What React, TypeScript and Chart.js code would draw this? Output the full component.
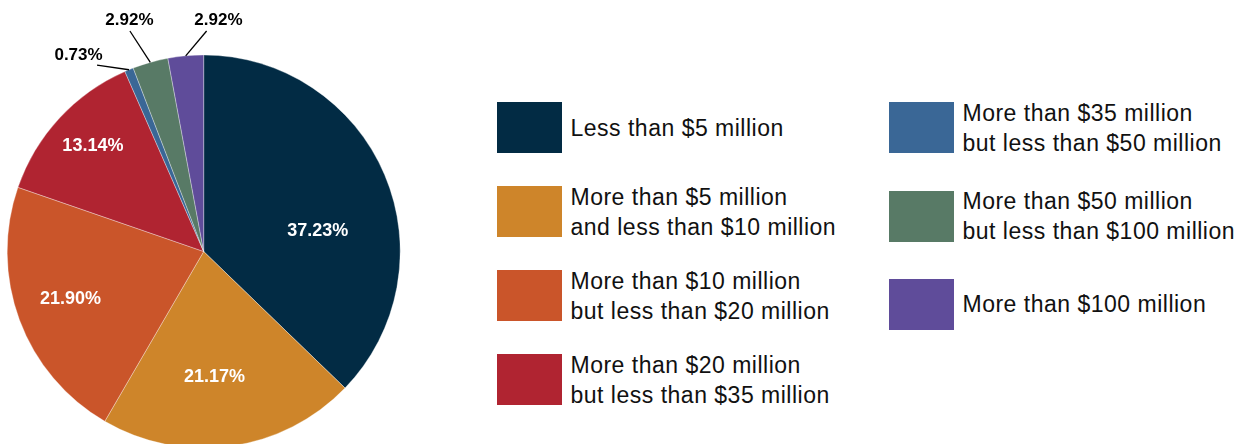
import React, { useEffect, useRef } from "react";
import { Chart, registerables } from "chart.js";

Chart.register(...registerables);

// ---- data ----
const categories: string[][] = [
  ["Less than $5 million"],
  ["More than $5 million", "and less than $10 million"],
  ["More than $10 million", "but less than $20 million"],
  ["More than $20 million", "but less than $35 million"],
  ["More than $35 million", "but less than $50 million"],
  ["More than $50 million", "but less than $100 million"],
  ["More than $100 million"],
];
const shares: number[] = [37.23, 21.17, 21.9, 13.14, 0.73, 2.92, 2.92];
const colors: string[] = [
  "#022B44",
  "#CE852A",
  "#CA552A",
  "#B02431",
  "#3A6796",
  "#587A66",
  "#5F4C9A",
];

// ---- label placement (style, not data) ----
type Placement =
  | { inside: true; angleShift: number; radiusFrac: number }
  | { inside: false; lineDx: number; lineDy: number; textDx: number; textDy: number };

const labelPlacement: Placement[] = [
  { inside: true, angleShift: 12.8, radiusFrac: 0.59 },
  { inside: true, angleShift: 3, radiusFrac: 0.64 },
  { inside: true, angleShift: 0.7, radiusFrac: 0.72 },
  { inside: true, angleShift: 1, radiusFrac: 0.78 },
  { inside: false, lineDx: -32, lineDy: -4.7, textDx: -18.5, textDy: -10 },
  { inside: false, lineDx: -20.4, lineDy: -31.4, textDx: -0.5, textDy: -10.3 },
  { inside: false, lineDx: 20.9, lineDy: -24.8, textDx: 11.8, textDy: -10.3 },
];

const FONT = '"Liberation Sans", Arial, Helvetica, sans-serif';

const labelPlugin = {
  id: "sliceLabels",
  afterDatasetsDraw(chart: any) {
    const ctx = chart.ctx as CanvasRenderingContext2D;
    const meta = chart.getDatasetMeta(0);
    meta.data.forEach((arc: any, i: number) => {
      const p = labelPlacement[i];
      const { x, y, startAngle, endAngle, outerRadius } = arc.getProps(
        ["x", "y", "startAngle", "endAngle", "outerRadius"],
        true
      );
      const mid = (startAngle + endAngle) / 2;
      const text = shares[i].toFixed(2) + "%";
      ctx.save();
      ctx.textAlign = "center";
      ctx.textBaseline = "middle";
      if (p.inside) {
        const a = mid + (p.angleShift * Math.PI) / 180;
        const r = outerRadius * p.radiusFrac;
        ctx.fillStyle = "#ffffff";
        ctx.font = `bold 18px ${FONT}`;
        ctx.fillText(text, x + Math.cos(a) * r, y + Math.sin(a) * r);
      } else {
        const ex = x + Math.cos(mid) * outerRadius;
        const ey = y + Math.sin(mid) * outerRadius;
        const lx = ex + p.lineDx;
        const ly = ey + p.lineDy;
        ctx.strokeStyle = "#000000";
        ctx.lineWidth = 1.3;
        ctx.beginPath();
        ctx.moveTo(ex, ey);
        ctx.lineTo(lx, ly);
        ctx.stroke();
        ctx.fillStyle = "#000000";
        ctx.font = `bold 17px ${FONT}`;
        ctx.fillText(text, lx + p.textDx, ly + p.textDy);
      }
      ctx.restore();
    });
  },
};

const CANVAS_W = 420;
const CANVAS_H = 520;
const CENTER_X = 203.7;
const CENTER_Y = 251.5;
const RADIUS = 196.5;

function LegendItem({ i }: { i: number }) {
  return (
    <div style={{ display: "flex", alignItems: "center", height: 51 }}>
      <div
        style={{
          width: 64.5,
          height: 51,
          background: colors[i],
          flex: "0 0 auto",
        }}
      />
      <div
        style={{
          marginLeft: 9,
          fontFamily: FONT,
          fontSize: 23,
          letterSpacing: "0.5px",
          lineHeight: "30px",
          color: "#111111",
          whiteSpace: "nowrap",
        }}
      >
        {categories[i].map((line, k) => (
          <div key={k}>{line}</div>
        ))}
      </div>
    </div>
  );
}

export default function App() {
  const ref = useRef<HTMLCanvasElement | null>(null);

  useEffect(() => {
    if (!ref.current) return;
    const chart = new Chart(ref.current, {
      type: "pie",
      data: {
        labels: categories.map((c) => c.join(" ")),
        datasets: [
          {
            data: shares,
            backgroundColor: colors,
            borderColor: "rgba(255,255,255,0.55)",
            borderWidth: 0.6,
            hoverOffset: 0,
            offset: 0,
          },
        ],
      },
      options: {
        animation: false,
        responsive: false,
        radius: RADIUS,
        layout: {
          padding: {
            left: 0,
            top: 0,
            right: CANVAS_W - 2 * CENTER_X,
            bottom: CANVAS_H - 2 * CENTER_Y,
          },
        },
        plugins: {
          legend: { display: false },
          tooltip: { enabled: false },
        },
      } as any,
      plugins: [labelPlugin],
    });
    return () => chart.destroy();
  }, []);

  const col1 = [0, 1, 2, 3];
  const col2 = [4, 5, 6];

  return (
    <div
      style={{
        position: "fixed",
        left: 0,
        top: 0,
        width: 1250,
        height: 444,
        overflow: "hidden",
        background: "#ffffff",
      }}
    >
      <canvas
        ref={ref}
        width={CANVAS_W}
        height={CANVAS_H}
        style={{ position: "absolute", left: 0, top: 0, width: CANVAS_W, height: CANVAS_H }}
      />
      <div
        style={{
          position: "absolute",
          left: 497,
          top: 102.3,
          display: "flex",
          flexDirection: "column",
          gap: 33,
        }}
      >
        {col1.map((i) => (
          <LegendItem key={i} i={i} />
        ))}
      </div>
      <div
        style={{
          position: "absolute",
          left: 889,
          top: 102.3,
          display: "flex",
          flexDirection: "column",
          gap: 37.3,
        }}
      >
        {col2.map((i) => (
          <LegendItem key={i} i={i} />
        ))}
      </div>
    </div>
  );
}
